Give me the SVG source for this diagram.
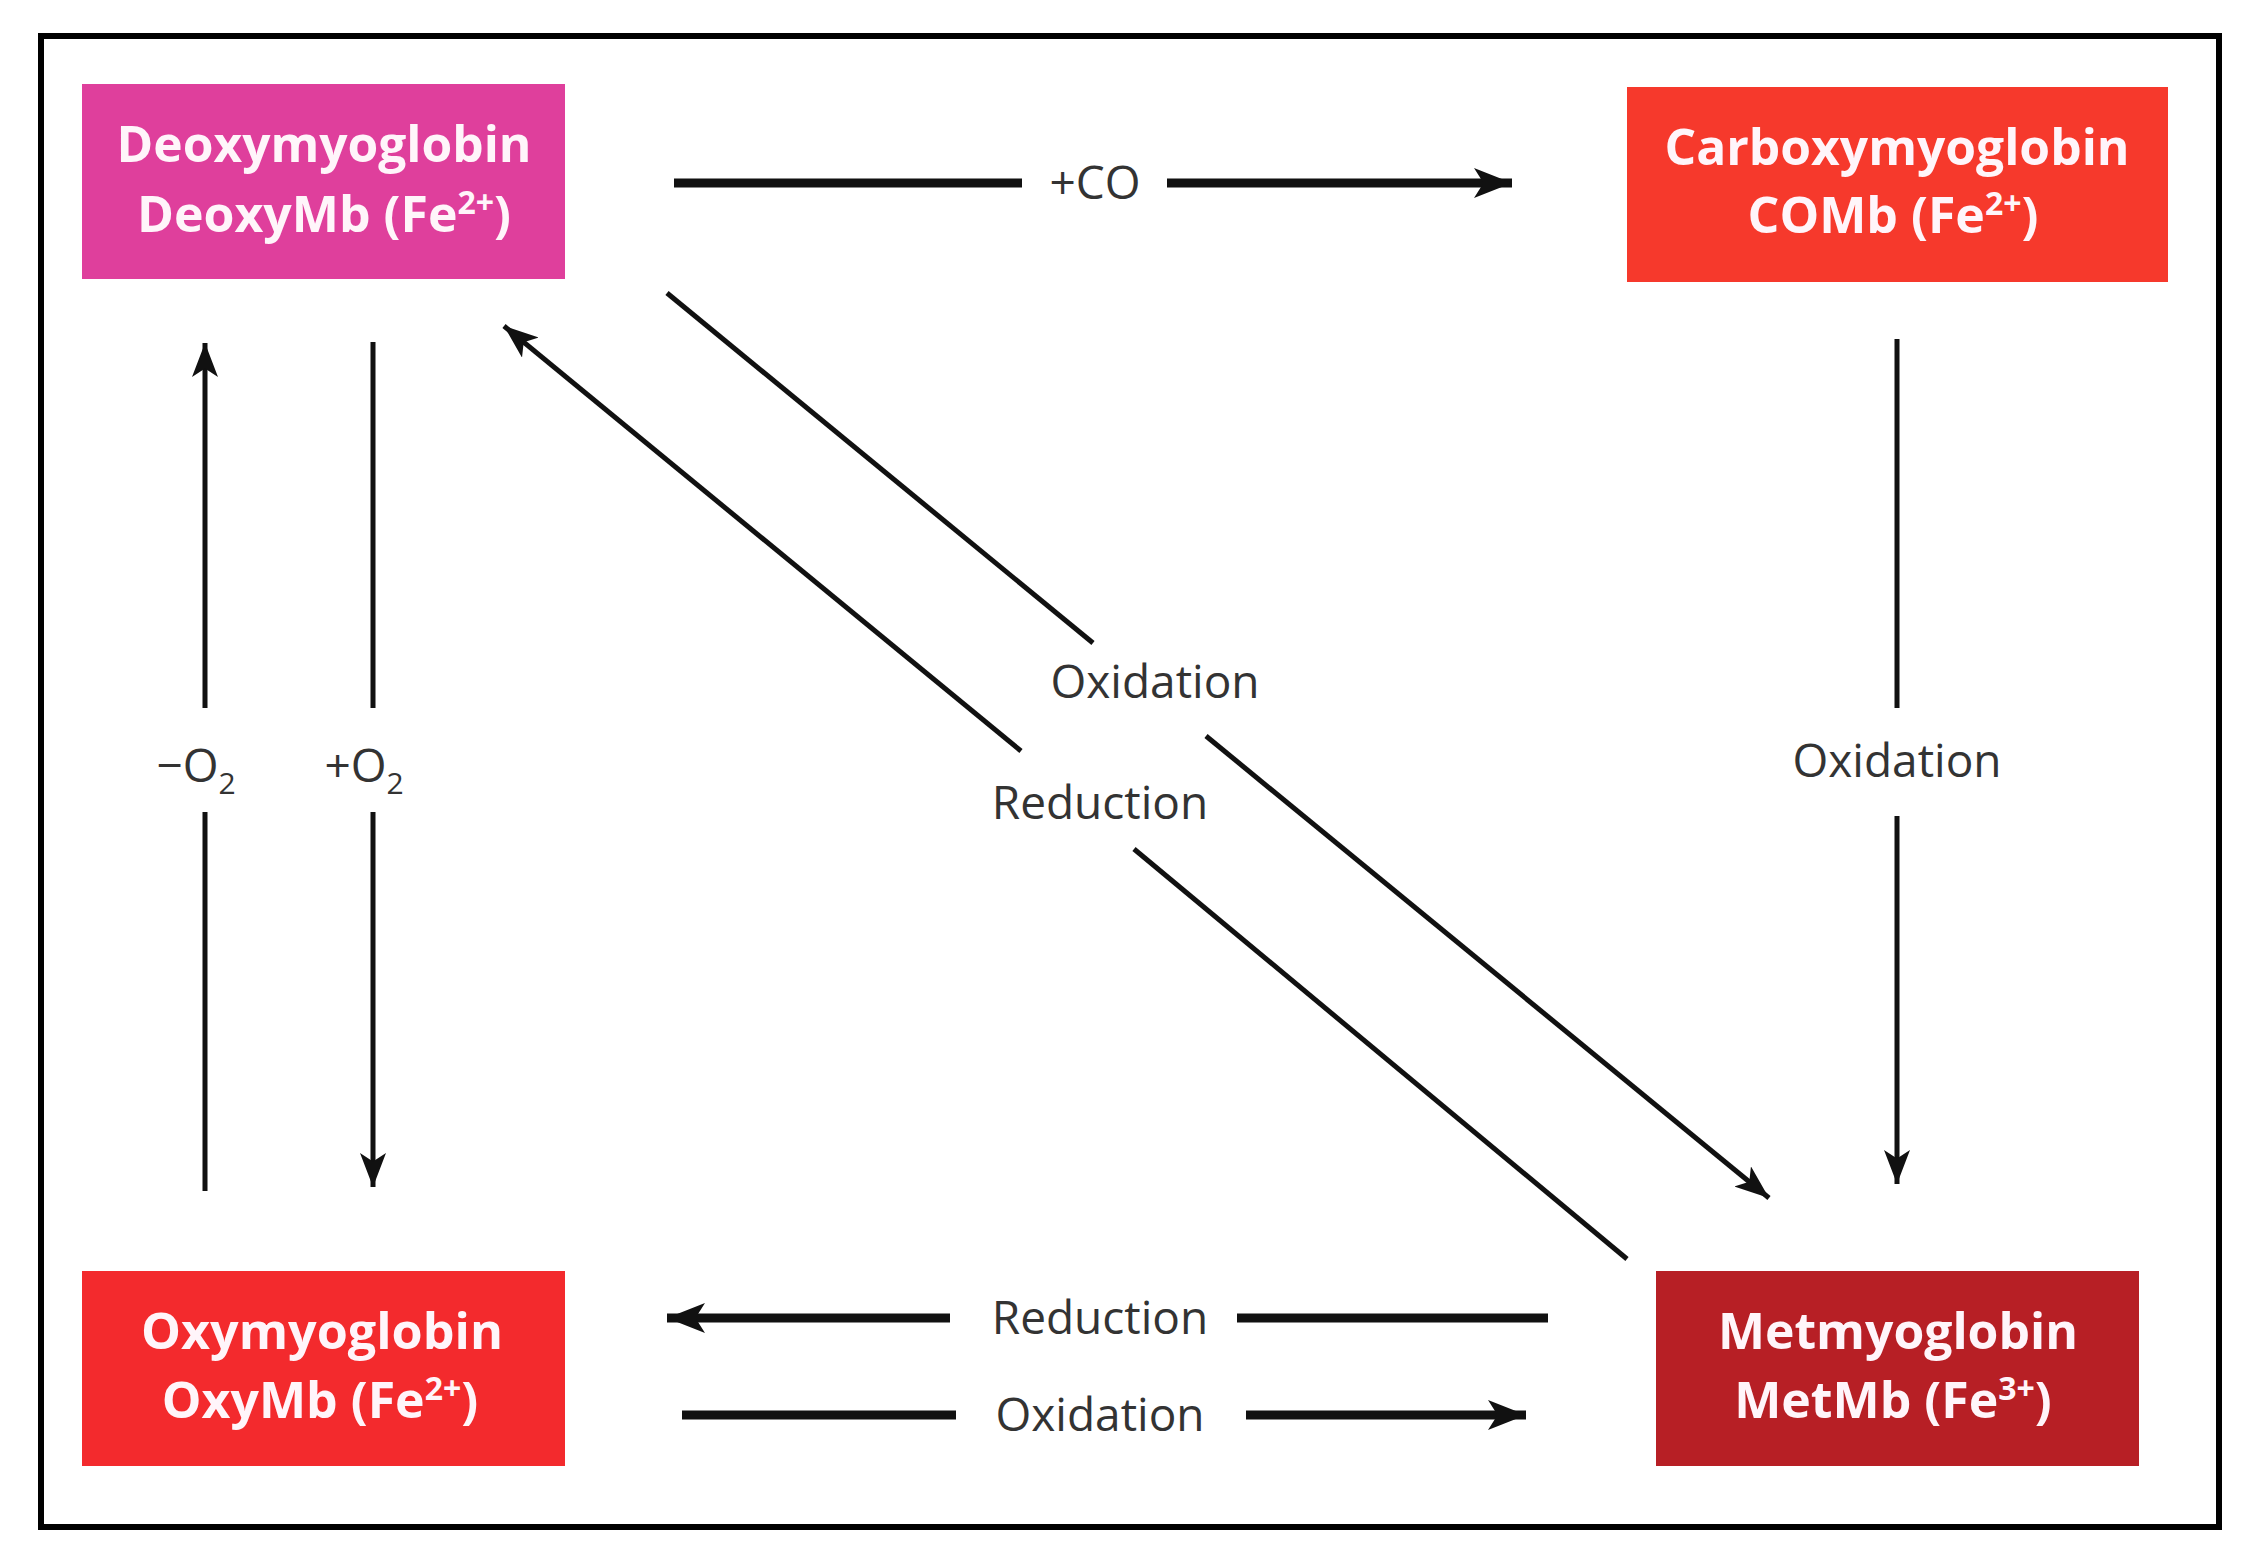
<svg xmlns="http://www.w3.org/2000/svg" width="2260" height="1565" viewBox="0 0 2260 1565">
<style>
.bx{font-family:"Open Sans","Liberation Sans",sans-serif;font-weight:bold;font-size:50px;fill:#fff5fa;text-anchor:middle}
.lb{font-family:"Open Sans","Liberation Sans",sans-serif;font-size:46px;fill:#333;text-anchor:middle}
.th{stroke:#111;stroke-width:9;fill:none}
.tn{stroke:#111;stroke-width:5;fill:none}
</style>
<defs>
<marker id="ah" viewBox="0 0 10 10" refX="10" refY="5" markerWidth="38" markerHeight="30" markerUnits="userSpaceOnUse" orient="auto" preserveAspectRatio="none">
<path d="M0,0 L10,5 L0,10 L2.5,5 Z" fill="#111"/>
</marker>
<marker id="as" viewBox="0 0 10 10" refX="10" refY="5" markerWidth="34" markerHeight="26" markerUnits="userSpaceOnUse" orient="auto" preserveAspectRatio="none">
<path d="M0,0 L10,5 L0,10 L2.5,5 Z" fill="#111"/>
</marker>
</defs>
<rect width="2260" height="1565" fill="#fff"/>
<rect x="41" y="36" width="2178" height="1491" fill="none" stroke="#000" stroke-width="6"/>
<g id="deoxy"><rect x="82" y="84" width="483" height="195" fill="#df3f9c"/>
<text class="bx" x="324" y="162" textLength="415" lengthAdjust="spacingAndGlyphs">Deoxymyoglobin</text>
<text class="bx" x="324" y="232">DeoxyMb (Fe<tspan font-size="32" dy="-18">2+</tspan><tspan dy="18">)</tspan></text></g>
<g id="carboxy"><rect x="1627" y="87" width="541" height="195" fill="#f6392c"/>
<text class="bx" x="1897" y="165" textLength="465" lengthAdjust="spacingAndGlyphs">Carboxymyoglobin</text>
<text class="bx" x="1893" y="233">COMb (Fe<tspan font-size="32" dy="-18">2+</tspan><tspan dy="18">)</tspan></text></g>
<g id="oxy"><rect x="82" y="1271" width="483" height="195" fill="#f32a2d"/>
<text class="bx" x="322" y="1349" textLength="362" lengthAdjust="spacingAndGlyphs">Oxymyoglobin</text>
<text class="bx" x="320" y="1418">OxyMb (Fe<tspan font-size="32" dy="-18">2+</tspan><tspan dy="18">)</tspan></text></g>
<g id="met"><rect x="1656" y="1271" width="483" height="195" fill="#b71f25"/>
<text class="bx" x="1898" y="1349" textLength="360" lengthAdjust="spacingAndGlyphs">Metmyoglobin</text>
<text class="bx" x="1893" y="1418">MetMb (Fe<tspan font-size="32" dy="-18">3+</tspan><tspan dy="18">)</tspan></text></g>
<g id="connectors">
<line class="th" x1="674" y1="183" x2="1022" y2="183"/>
<line class="th" x1="1167" y1="183" x2="1512" y2="183" marker-end="url(#ah)"/>
<text class="lb" x="1095" y="199">+CO</text>
<line class="tn" x1="205" y1="1191" x2="205" y2="812"/>
<line class="tn" x1="205" y1="708" x2="205" y2="343" marker-end="url(#as)"/>
<line class="tn" x1="373" y1="342" x2="373" y2="708"/>
<line class="tn" x1="373" y1="812" x2="373" y2="1187" marker-end="url(#as)"/>
<text class="lb" x="196" y="782">−O<tspan font-size="30" dy="12">2</tspan></text>
<text class="lb" x="364" y="782">+O<tspan font-size="30" dy="12">2</tspan></text>
<line class="tn" x1="667" y1="293" x2="1093" y2="643"/>
<line class="tn" x1="1206" y1="736" x2="1769" y2="1198" marker-end="url(#as)"/>
<text class="lb" x="1155" y="698">Oxidation</text>
<line class="tn" x1="1021" y1="751" x2="504" y2="326" marker-end="url(#as)"/>
<line class="tn" x1="1134" y1="849" x2="1627" y2="1259"/>
<text class="lb" x="1100" y="819">Reduction</text>
<line class="tn" x1="1897" y1="339" x2="1897" y2="708"/>
<line class="tn" x1="1897" y1="816" x2="1897" y2="1184" marker-end="url(#as)"/>
<text class="lb" x="1897" y="777">Oxidation</text>
<line class="th" x1="1548" y1="1318" x2="1237" y2="1318"/>
<line class="th" x1="950" y1="1318" x2="667" y2="1318" marker-end="url(#ah)"/>
<text class="lb" x="1100" y="1334">Reduction</text>
<line class="th" x1="682" y1="1415" x2="956" y2="1415"/>
<line class="th" x1="1246" y1="1415" x2="1526" y2="1415" marker-end="url(#ah)"/>
<text class="lb" x="1100" y="1431">Oxidation</text>
</g>
</svg>
